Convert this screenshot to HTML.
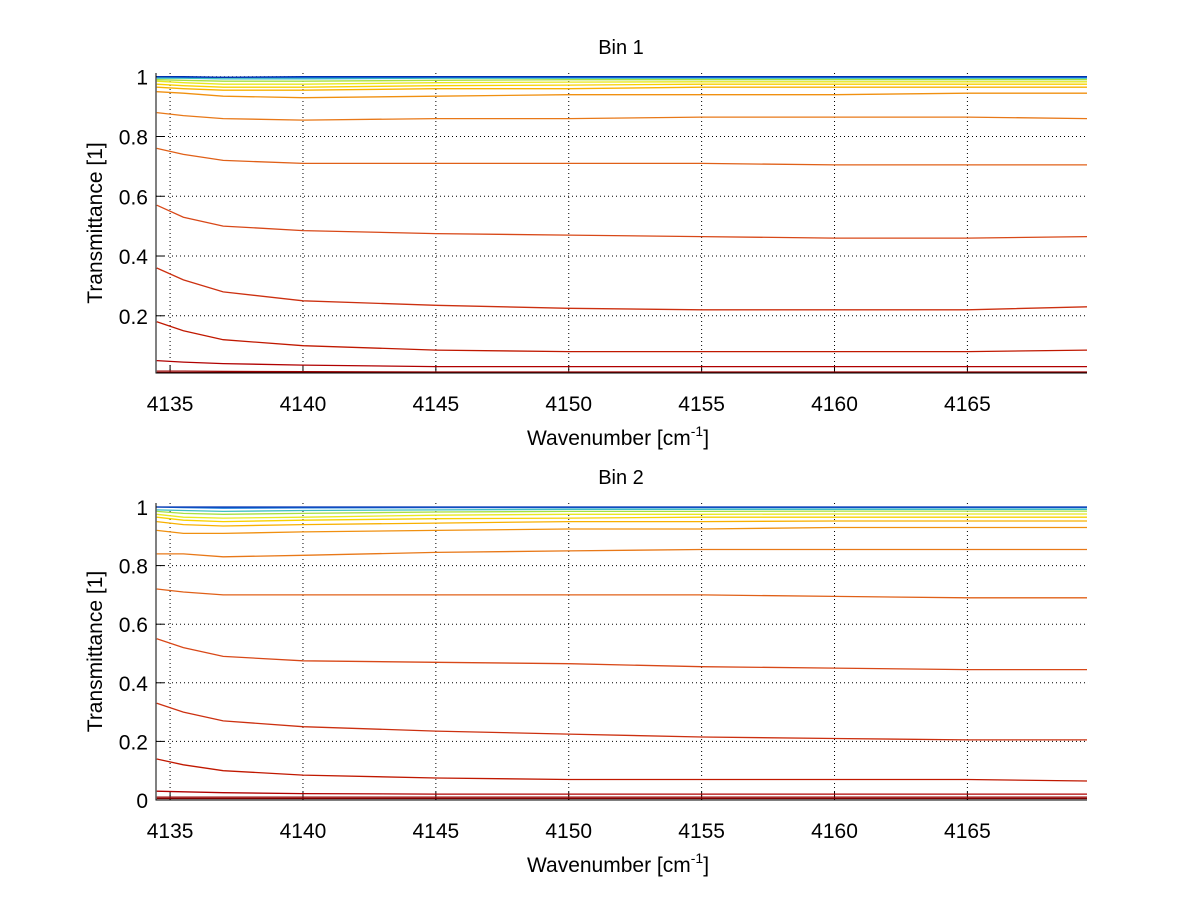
<!DOCTYPE html>
<html><head><meta charset="utf-8"><style>
body{margin:0;background:#fff;}
svg text{font-family:"Liberation Sans",sans-serif;fill:#000;}
</style></head><body>
<svg id="chart" width="1200" height="901" viewBox="0 0 1200 901" xmlns="http://www.w3.org/2000/svg">
<rect width="1200" height="901" fill="#fff"/>
</svg>
<script>
const xs = [4134.5,4135.5,4137,4140,4145,4150,4155,4160,4165,4169.5];
const xTicks = [4135,4140,4145,4150,4155,4160,4165];
const yTicks1 = [0.2,0.4,0.6,0.8,1];
const yTicks2 = [0,0.2,0.4,0.6,0.8,1];
const colors = ["#7f0000","#990000","#b00000","#c01800","#cc3010","#d84818","#e06018","#e87818","#f09010","#f8b000","#f8d000","#e8e820","#a8e040","#40c0c0","#2080e0","#0030b0"];
const bin1 = [
 [0.01,0.01,0.01,0.01,0.01,0.01,0.01,0.01,0.01,0.01],
 [0.015,0.015,0.014,0.013,0.012,0.012,0.012,0.012,0.012,0.012],
 [0.05,0.045,0.04,0.035,0.03,0.03,0.03,0.03,0.03,0.03],
 [0.18,0.15,0.12,0.10,0.085,0.08,0.08,0.08,0.08,0.085],
 [0.36,0.32,0.28,0.25,0.235,0.225,0.22,0.22,0.22,0.23],
 [0.57,0.53,0.50,0.485,0.475,0.47,0.465,0.46,0.46,0.465],
 [0.76,0.74,0.72,0.71,0.71,0.71,0.71,0.705,0.705,0.705],
 [0.88,0.87,0.86,0.855,0.86,0.86,0.865,0.865,0.865,0.86],
 [0.95,0.945,0.935,0.93,0.935,0.94,0.94,0.94,0.945,0.945],
 [0.965,0.96,0.955,0.955,0.96,0.96,0.965,0.965,0.965,0.965],
 [0.975,0.97,0.965,0.965,0.97,0.972,0.975,0.975,0.975,0.975],
 [0.985,0.98,0.975,0.975,0.98,0.982,0.983,0.983,0.983,0.983],
 [0.99,0.988,0.985,0.985,0.988,0.99,0.99,0.99,0.99,0.99],
 [0.995,0.995,0.993,0.993,0.995,0.995,0.995,0.995,0.995,0.995],
 [1.0,0.998,0.998,0.997,0.998,0.998,0.998,0.998,0.998,0.998],
 [1.0,1.0,0.998,1.0,1.0,1.0,1.0,1.0,1.0,1.0]
];
const bin2 = [
 [0.005,0.005,0.005,0.005,0.005,0.005,0.005,0.005,0.005,0.005],
 [0.01,0.01,0.01,0.01,0.01,0.01,0.01,0.01,0.01,0.01],
 [0.03,0.028,0.025,0.022,0.02,0.02,0.02,0.02,0.02,0.02],
 [0.14,0.12,0.10,0.085,0.075,0.07,0.07,0.07,0.07,0.065],
 [0.33,0.30,0.27,0.25,0.235,0.225,0.215,0.21,0.205,0.205],
 [0.55,0.52,0.49,0.475,0.47,0.465,0.455,0.45,0.445,0.445],
 [0.72,0.71,0.70,0.70,0.70,0.70,0.70,0.695,0.69,0.69],
 [0.84,0.84,0.83,0.835,0.845,0.85,0.855,0.855,0.855,0.855],
 [0.92,0.91,0.91,0.915,0.92,0.925,0.925,0.93,0.93,0.93],
 [0.95,0.94,0.935,0.94,0.945,0.95,0.95,0.952,0.952,0.952],
 [0.965,0.955,0.95,0.955,0.96,0.962,0.965,0.965,0.965,0.965],
 [0.975,0.965,0.962,0.965,0.972,0.975,0.975,0.976,0.976,0.976],
 [0.985,0.978,0.975,0.978,0.983,0.985,0.985,0.986,0.986,0.986],
 [0.99,0.988,0.985,0.988,0.99,0.992,0.992,0.992,0.992,0.992],
 [1.0,0.998,0.996,0.997,0.998,0.998,0.998,0.998,0.998,0.998],
 [1.0,1.0,1.0,1.0,1.0,1.0,1.0,1.0,1.0,1.0]
];
const NS="http://www.w3.org/2000/svg";
const svg=document.getElementById('chart');
const X0=4134.47, X1=4169.5, L=156, R=1087;
function sx(v){return L+(v-X0)/(X1-X0)*(R-L);}
function mk(tag,attrs){const e=document.createElementNS(NS,tag);for(const k in attrs)e.setAttribute(k,attrs[k]);return e;}
function panel(top,bottom,ymin,ymax,yTicks,data,title,id){
  const g=mk('g',{});
  
  
  svg.appendChild(g);
  const sy=v=>bottom-(v-ymin)/(ymax-ymin)*(bottom-top);
  xTicks.forEach(t=>{
    const ln=mk('line',{x1:sx(t),x2:sx(t),y1:top,y2:bottom,stroke:'#000','stroke-width':1,'stroke-dasharray':'1,3'});
    
    
    g.appendChild(ln);
    g.appendChild(mk('line',{x1:sx(t),x2:sx(t),y1:bottom,y2:bottom-8,stroke:'#000'}));
    const tx=mk('text',{x:sx(t),y:bottom+38,'font-size':21,'text-anchor':'middle'});
    tx.textContent=t;
    
    
    g.appendChild(tx);
  });
  yTicks.forEach(t=>{
    const y=sy(t);
    const ln=mk('line',{x1:L,x2:R,y1:y,y2:y,stroke:'#000','stroke-width':1,'stroke-dasharray':'1,3'});
    
    
    g.appendChild(ln);
    g.appendChild(mk('line',{x1:L,x2:L+8,y1:y,y2:y,stroke:'#000'}));
    const tx=mk('text',{x:L-8,y:y+8,'font-size':21,'text-anchor':'end'});
    tx.textContent=String(t);
    
    
    g.appendChild(tx);
  });
  data.forEach((ser,i)=>{
    const pts=ser.map((v,j)=>sx(xs[j]).toFixed(1)+','+sy(v).toFixed(1)).join(' ');
    const pl=mk('polyline',{points:pts,fill:'none',stroke:colors[i],'stroke-width':1.3});
    
    
    g.appendChild(pl);
  });
  const ax=mk('path',{d:`M${L},${top} L${L},${bottom} L${R},${bottom}`,fill:'none',stroke:'#000','stroke-width':1});
  
  
  g.appendChild(ax);
  const tt=mk('text',{x:621,y:top-19,'font-size':20,'text-anchor':'middle'});
  tt.textContent=title;
  
  
  g.appendChild(tt);
  const xl=mk('text',{x:618,y:bottom+72,'font-size':21,'text-anchor':'middle'});
  xl.innerHTML='Wavenumber [cm<tspan font-size="14" dy="-9">-1</tspan><tspan dy="9">]</tspan>';
  
  
  g.appendChild(xl);
  const cy=(top+bottom)/2;
  const yl=mk('text',{x:102,y:cy,'font-size':21,'text-anchor':'middle',transform:`rotate(-90 102 ${cy})`});
  yl.textContent='Transmittance [1]';
  
  
  g.appendChild(yl);
}
panel(73,373,0.0085,1.0125,yTicks1,bin1,'Bin 1','panel-bin-1');
panel(503,800,0,1.0136,yTicks2,bin2,'Bin 2','panel-bin-2');
</script>
</body></html>
